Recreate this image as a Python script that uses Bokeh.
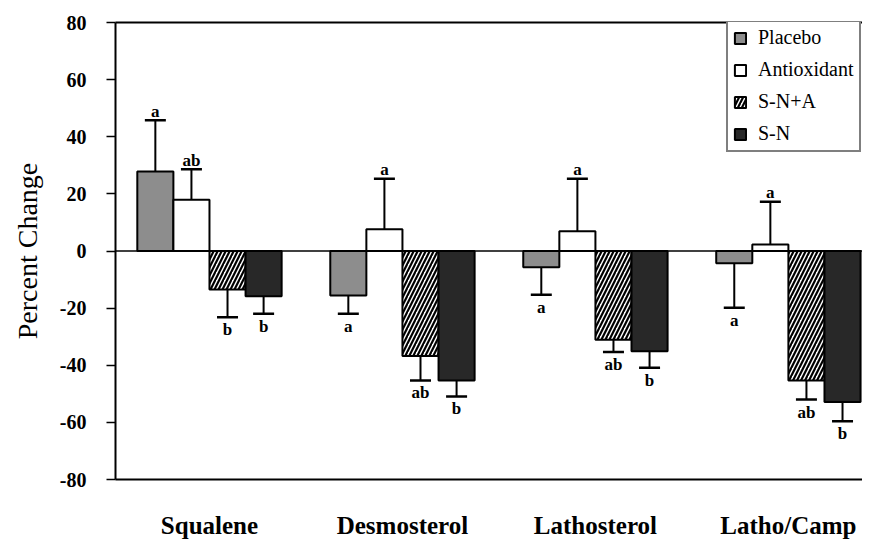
from bokeh.plotting import figure
from bokeh.models import (Range1d, LinearAxis, FixedTicker, Span, Whisker, TeeHead,
                          ColumnDataSource, Legend, LegendItem)
from bokeh.embed import file_html
from bokeh.resources import INLINE
from bokeh.core.properties import value

categories = ["Squalene", "Desmosterol", "Lathosterol", "Latho/Camp"]
treatments = ["Placebo", "Antioxidant", "S-N+A", "S-N"]

placebo = [27.8, -15.6, -5.7, -4.3]
antioxidant = [17.9, 7.6, 6.9, 2.3]
sn_a = [-13.5, -36.8, -31.1, -45.3]
sn = [-15.8, -45.3, -35.1, -52.9]

placebo_err = [18.0, 6.4, 9.6, 15.6]
antioxidant_err = [10.7, 17.7, 18.4, 14.9]
sn_a_err = [9.7, 8.5, 4.3, 6.7]
sn_err = [6.2, 5.6, 5.8, 6.7]

placebo_sig = ["a", "a", "a", "a"]
antioxidant_sig = ["ab", "a", "a", "a"]
sn_a_sig = ["b", "ab", "ab", "ab"]
sn_sig = ["b", "b", "b", "b"]

y_ticks = [-80, -60, -40, -20, 0, 20, 40, 60, 80]
y_tick_labels = [str(t) for t in y_ticks]
y_label = "Percent Change"

means = [placebo, antioxidant, sn_a, sn]
errs = [placebo_err, antioxidant_err, sn_a_err, sn_err]
sigs = [placebo_sig, antioxidant_sig, sn_a_sig, sn_sig]

SERIF = "Liberation Serif"
BAR_W = 0.187
offsets = [-1.5 * BAR_W, -0.5 * BAR_W, 0.5 * BAR_W, 1.5 * BAR_W]
styles = [
    dict(fill_color="#8d8d8d"),
    dict(fill_color="white"),
    dict(fill_color="white", hatch_pattern="/", hatch_color="black",
         hatch_weight=2.2, hatch_scale=8),
    dict(fill_color="#282828"),
]
centers = [i + 0.5 for i in range(len(categories))]

p = figure(width=862, height=541,
           x_range=Range1d(0.013, 3.884), y_range=Range1d(-80, 80),
           output_backend="svg", toolbar_location=None,
           min_border_left=115, min_border_right=0,
           min_border_top=22, min_border_bottom=62)
p.outline_line_color = None
p.xgrid.visible = False
p.ygrid.visible = False
p.background_fill_color = "white"
p.border_fill_color = "white"

# y axis
yax = p.yaxis[0]
yax.ticker = FixedTicker(ticks=y_ticks)
yax.major_label_overrides = {t: l for t, l in zip(y_ticks, y_tick_labels)}
yax.minor_tick_line_color = None
yax.major_tick_out = 9
yax.major_tick_in = 0
yax.major_tick_line_width = 1.5
yax.axis_line_width = 2
yax.major_label_standoff = 20
yax.major_label_text_font = SERIF
yax.major_label_text_font_style = "bold"
yax.major_label_text_font_size = "20px"
yax.major_label_text_color = "black"
yax.axis_label = y_label
yax.axis_label_text_font = SERIF
yax.axis_label_text_font_style = "normal"
yax.axis_label_text_font_size = "28px"
yax.axis_label_text_color = "black"
yax.axis_label_standoff = 14

# x axis
xax = p.xaxis[0]
xax.ticker = FixedTicker(ticks=centers)
xax.major_label_overrides = {c: n for c, n in zip(centers, categories)}
xax.major_tick_line_color = None
xax.major_tick_out = 0
xax.major_tick_in = 0
xax.minor_tick_line_color = None
xax.axis_line_width = 2
xax.major_label_standoff = 32
xax.major_label_text_font = SERIF
xax.major_label_text_font_style = "bold"
xax.major_label_text_font_size = "25px"
xax.major_label_text_color = "black"

# top border
top = LinearAxis(ticker=FixedTicker(ticks=[]), axis_line_width=2,
                 major_tick_line_color=None, minor_tick_line_color=None,
                 major_tick_out=0, major_tick_in=0,
                 major_label_text_font_size="0px", major_label_standoff=0)
p.add_layout(top, "above")

p.add_layout(Span(location=0, dimension="width", line_color="black", line_width=1.5))

renderers = []
for k, t in enumerate(treatments):
    xs = [c + offsets[k] for c in centers]
    src = ColumnDataSource(dict(x=xs, top=means[k]))
    r = p.vbar(x="x", top="top", bottom=0, width=BAR_W, source=src,
               line_color="black", line_width=2, **styles[k])
    renderers.append(r)

    pos = [i for i, m in enumerate(means[k]) if m >= 0]
    neg = [i for i, m in enumerate(means[k]) if m < 0]
    if pos:
        s = ColumnDataSource(dict(x=[xs[i] for i in pos],
                                  lo=[means[k][i] for i in pos],
                                  hi=[means[k][i] + errs[k][i] for i in pos],
                                  t=[sigs[k][i] for i in pos]))
        p.add_layout(Whisker(base="x", lower="lo", upper="hi", source=s,
                             line_color="black", line_width=2,
                             lower_head=None,
                             upper_head=TeeHead(size=21, line_width=2.5, line_color="black")))
        p.text(x="x", y="hi", text="t", source=s, text_align="center",
               text_baseline="alphabetic", y_offset=-9,
               text_font=value(SERIF), text_font_style="bold",
               text_font_size="17px", text_color="black")
    if neg:
        s = ColumnDataSource(dict(x=[xs[i] for i in neg],
                                  lo=[means[k][i] - errs[k][i] for i in neg],
                                  hi=[means[k][i] for i in neg],
                                  t=[sigs[k][i] for i in neg]))
        p.add_layout(Whisker(base="x", lower="lo", upper="hi", source=s,
                             line_color="black", line_width=2,
                             upper_head=None,
                             lower_head=TeeHead(size=21, line_width=2.5, line_color="black")))
        p.text(x="x", y="lo", text="t", source=s, text_align="center",
               text_baseline="top", y_offset=3,
               text_font=value(SERIF), text_font_style="bold",
               text_font_size="17px", text_color="black")

legend = Legend(items=[LegendItem(label=t, renderers=[r]) for t, r in zip(treatments, renderers)],
                location=(611, 327), margin=0, padding=5, spacing=9,
                glyph_width=14, glyph_height=14, label_height=20,
                label_standoff=11, border_line_color="black", border_line_width=2,
                label_text_font=SERIF, label_text_font_size="20px",
                label_text_color="black", background_fill_alpha=1)
p.add_layout(legend)

open("out.html", "w").write(file_html(p, INLINE))
